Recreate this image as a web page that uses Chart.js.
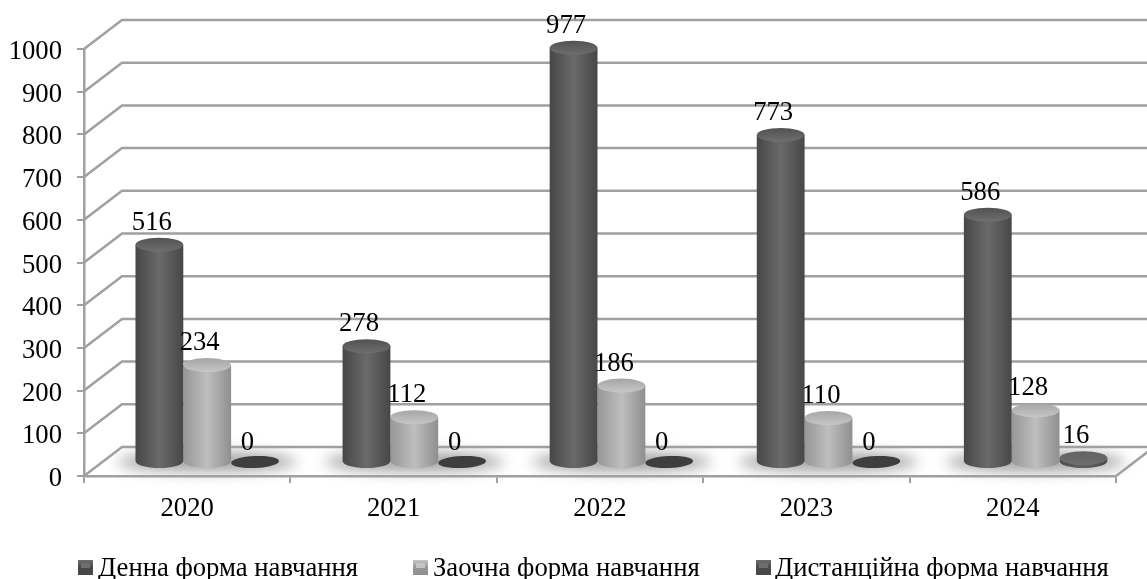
<!DOCTYPE html>
<html lang="uk">
<head>
    <meta charset="UTF-8">
    <title>Форма навчання</title>
    <script src="https://cdn.jsdelivr.net/npm/chart.js"></script>
    <style>
        html, body { margin: 0; padding: 0; background: #fff; overflow: hidden; }
        canvas { display: block; }
    </style>
</head>
<body>
    <canvas id="chart" width="1147" height="579"></canvas>

    <script>
        const years = ['2020', '2021', '2022', '2023', '2024'];
        const fullTime = [516, 278, 977, 773, 586];
        const partTime = [234, 112, 186, 110, 128];
        const distance = [0, 0, 0, 0, 16];
        const seriesNames = ['Денна форма навчання', 'Заочна форма навчання', 'Дистанційна форма навчання'];

        const FONT = '"Liberation Serif", "Times New Roman", serif';
        const FONT_SIZE = 26.7;
        const GRID = '#a0a0a0';
        const DEPTH_X = 38, DEPTH_Y = 29;   // offset of the back wall
        const BAR_DX = 20, BAR_DY = 14;     // bars stand half way into the floor
        const BAR_DRIFT = 0.7;              // the groups spread a bit wider than the front axis
        const CAP_DROP = 3;                 // cap centre sits a little below the value

        // left / middle / right of the cylinder side, then top cap
        const shades = [
            { l: '#474747', m: '#6a6a6a', r: '#474747', capTop: '#525252', capBottom: '#6e6e6e' },
            { l: '#979797', m: '#bebebe', r: '#8f8f8f', capTop: '#a6a6a6', capBottom: '#c6c6c6' },
            { l: '#4a4a4a', m: '#626262', r: '#484848', capTop: '#626262', capBottom: '#6e6e6e' }
        ];

        function sideGradient(ctx, x0, x1, s) {
            const g = ctx.createLinearGradient(x0, 0, x1, 0);
            g.addColorStop(0, s.l);
            g.addColorStop(0.5, s.m);
            g.addColorStop(1, s.r);
            return g;
        }

        function barX(bar, i) {
            return bar.x + BAR_DX + i * BAR_DRIFT;
        }

        function drawCylinder(ctx, bar, i, s, isZero) {
            const x = barX(bar, i), rx = bar.width / 2, ry = 7;
            const top = bar.y - BAR_DY + CAP_DROP, base = bar.base - BAR_DY;
            if (isZero) {
                ctx.fillStyle = '#3e3e3e';
                ctx.beginPath();
                ctx.ellipse(x, base, rx, ry - 1, -0.04, 0, Math.PI * 2);
                ctx.fill();
                return;
            }
            ctx.fillStyle = sideGradient(ctx, x - rx, x + rx, s);
            ctx.beginPath();
            ctx.moveTo(x - rx, top);
            ctx.lineTo(x - rx, base);
            ctx.ellipse(x, base, rx, ry, 0, Math.PI, 0, true);
            ctx.lineTo(x + rx, top);
            ctx.closePath();
            ctx.fill();
            // top cap
            const cap = ctx.createLinearGradient(0, top - ry, 0, top + ry);
            cap.addColorStop(0, s.capTop);
            cap.addColorStop(1, s.capBottom);
            ctx.fillStyle = cap;
            ctx.beginPath();
            ctx.ellipse(x, top, rx, ry, 0, 0, Math.PI * 2);
            ctx.fill();
        }

        const wallPlugin = {
            id: 'wall',
            beforeDatasetsDraw(chart) {
                const { ctx, chartArea, scales } = chart;
                ctx.save();
                ctx.strokeStyle = GRID;
                ctx.lineWidth = 2.5;
                scales.y.ticks.forEach(t => {
                    const y = scales.y.getPixelForValue(t.value);
                    ctx.beginPath();
                    ctx.moveTo(chartArea.left, y);
                    ctx.lineTo(chartArea.left + DEPTH_X, y - DEPTH_Y);
                    ctx.lineTo(chartArea.right + DEPTH_X, y - DEPTH_Y);
                    ctx.stroke();
                });
                ctx.beginPath();
                ctx.moveTo(chartArea.right, chartArea.bottom);
                ctx.lineTo(chartArea.right + DEPTH_X, chartArea.bottom - DEPTH_Y);
                ctx.stroke();
                // soft shadow on the floor under each group
                const first = chart.getDatasetMeta(0).data, last = chart.getDatasetMeta(2).data;
                ctx.filter = 'blur(7px)';
                ctx.fillStyle = '#a4a4a4';
                first.forEach((bar, i) => {
                    const x0 = barX(bar, i) - bar.width / 2, x1 = barX(last[i], i) + last[i].width / 2;
                    ctx.beginPath();
                    ctx.ellipse((x0 + x1) / 2, bar.base - BAR_DY + 1, (x1 - x0) / 2 + 18, 10, 0, 0, Math.PI * 2);
                    ctx.fill();
                });
                ctx.restore();
            },
            beforeDatasetDraw(chart, args) {
                const { ctx } = chart;
                const values = chart.data.datasets[args.index].data;
                chart.getDatasetMeta(args.index).data.forEach((bar, i) => {
                    drawCylinder(ctx, bar, i, shades[args.index], values[i] === 0);
                });
            },
            afterDatasetsDraw(chart) {
                const { ctx } = chart;
                ctx.save();
                ctx.font = FONT_SIZE + 'px ' + FONT;
                ctx.fillStyle = '#000';
                ctx.textAlign = 'center';
                ctx.textBaseline = 'alphabetic';
                chart.data.datasets.forEach((ds, d) => {
                    chart.getDatasetMeta(d).data.forEach((bar, i) => {
                        ctx.fillText(String(ds.data[i]), barX(bar, i) - 7.5, bar.y - BAR_DY + CAP_DROP - 15);
                    });
                });
                ctx.restore();
            },
            afterDraw(chart) {
                // legend keys sit very close to their text, so it is drawn here
                const { ctx } = chart;
                const keyX = [78, 413, 756], textX = [98, 433, 775];
                ctx.save();
                ctx.font = FONT_SIZE + 'px ' + FONT;
                ctx.textBaseline = 'alphabetic';
                ctx.textAlign = 'left';
                seriesNames.forEach((name, i) => {
                    const g = ctx.createLinearGradient(0, 560, 0, 575);
                    g.addColorStop(0, shades[i].capBottom);
                    g.addColorStop(0.5, shades[i].l);
                    g.addColorStop(1, shades[i].r);
                    ctx.fillStyle = g;
                    ctx.fillRect(keyX[i], 560, 15, 15);
                    ctx.fillStyle = shades[i].capBottom;
                    ctx.fillRect(keyX[i] + 3, 563, 9, 5);
                    ctx.fillStyle = '#000';
                    ctx.fillText(name, textX[i], 576);
                });
                ctx.restore();
            }
        };

        new Chart(document.getElementById('chart').getContext('2d'), {
            type: 'bar',
            data: {
                labels: years,
                datasets: [
                    { label: seriesNames[0], data: fullTime },
                    { label: seriesNames[1], data: partTime },
                    { label: seriesNames[2], data: distance }
                ].map(d => ({ ...d, backgroundColor: 'rgba(0,0,0,0)', borderWidth: 0 }))
            },
            options: {
                responsive: false,
                animation: false,
                categoryPercentage: 0.695,
                barPercentage: 1,
                layout: { padding: { top: 49, right: 31, left: 0, bottom: 0 } },
                plugins: { legend: { display: false }, tooltip: { enabled: false } },
                scales: {
                    x: {
                        afterFit(scale) { scale.height = 103; },
                        border: { color: GRID, width: 2.5 },
                        grid: { color: GRID, lineWidth: 2, drawOnChartArea: false, tickLength: 7 },
                        ticks: { color: '#000', padding: 10, maxRotation: 0, font: { family: FONT, size: FONT_SIZE } }
                    },
                    y: {
                        min: 0,
                        max: 1000,
                        afterFit(scale) { scale.width = 84; },
                        border: { color: GRID, width: 2.5 },
                        grid: { color: GRID, lineWidth: 2, drawOnChartArea: false, tickLength: 7 },
                        ticks: { color: '#000', stepSize: 100, padding: 15, labelOffset: 3, callback: v => String(v), font: { family: FONT, size: FONT_SIZE } }
                    }
                }
            },
            plugins: [wallPlugin]
        });
    </script>
</body>
</html>
